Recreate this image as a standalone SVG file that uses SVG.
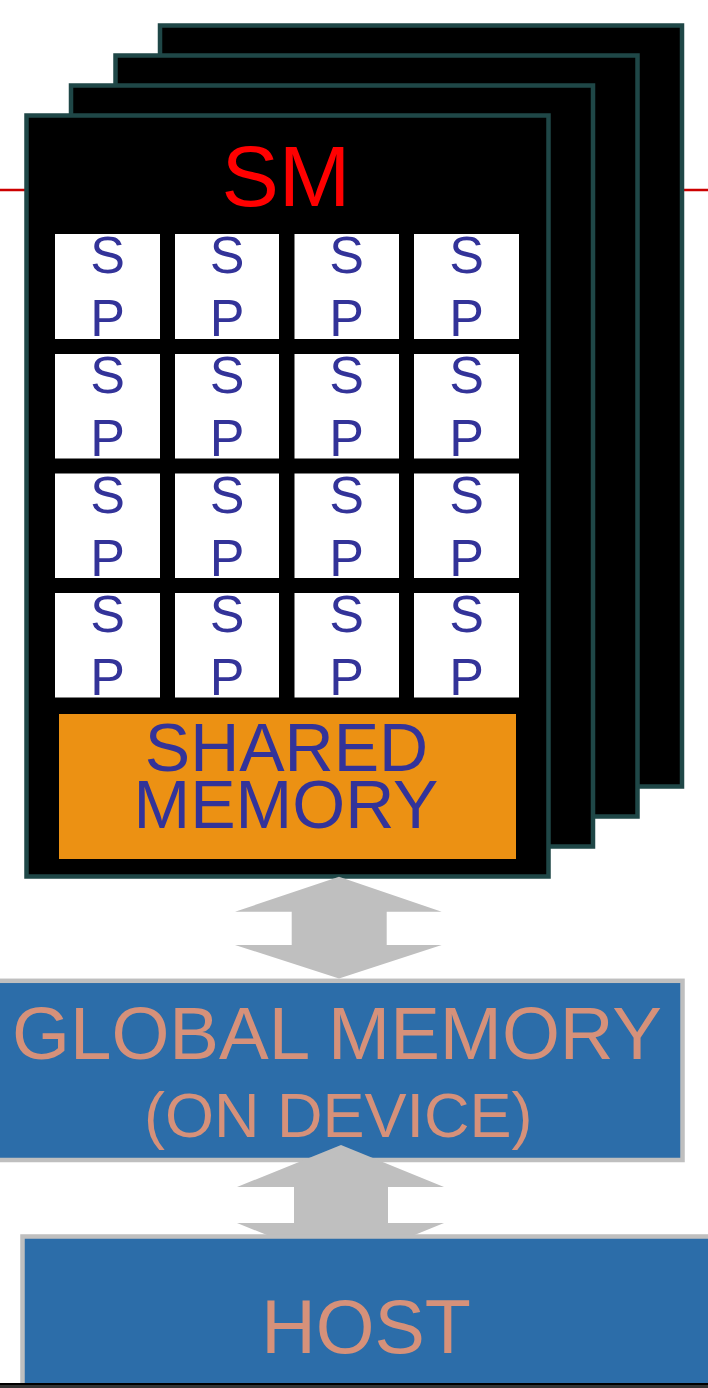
<svg xmlns="http://www.w3.org/2000/svg" width="708" height="1388" viewBox="0 0 708 1388">
  <style>
    .card { fill: #000000; stroke: #1f4747; stroke-width: 4.5; }
    .sp { fill: #ffffff; }
    .sptxt { font-family: "Liberation Sans", Arial, sans-serif; font-size: 52px; fill: #333399; text-anchor: middle; }
    .big { font-family: "Liberation Sans", Arial, sans-serif; text-anchor: middle; }
    .mem { fill: #2c6da9; stroke: #bfbfbf; stroke-width: 4.5; }
    .memtxt { fill: #d6917a; }
    .arrow { fill: #bfbfbf; }
  </style>

  <rect x="0" y="0" width="708" height="1388" fill="#ffffff"/>
  <line x1="0" y1="190" x2="708" y2="190" stroke="#cc0000" stroke-width="2.5"/>

  <g id="sm-stack">
    <rect class="card" x="160" y="25.5" width="522" height="761"/>
    <rect class="card" x="115.5" y="55.5" width="522" height="761"/>
    <rect class="card" x="71" y="85.5" width="522" height="761"/>
    <rect class="card" x="26.5" y="115.5" width="522" height="761"/>
    <text class="big" x="286" y="206" font-size="86" fill="#ff0000">SM</text>
  </g>

  <g id="sp-grid">
    <rect class="sp" x="55" y="234" width="105" height="105"/>
    <rect class="sp" x="175" y="234" width="104" height="105"/>
    <rect class="sp" x="294.5" y="234" width="104.5" height="105"/>
    <rect class="sp" x="414" y="234" width="105" height="105"/>
    <rect class="sp" x="55" y="354" width="105" height="104.5"/>
    <rect class="sp" x="175" y="354" width="104" height="104.5"/>
    <rect class="sp" x="294.5" y="354" width="104.5" height="104.5"/>
    <rect class="sp" x="414" y="354" width="105" height="104.5"/>
    <rect class="sp" x="55" y="473.5" width="105" height="104.5"/>
    <rect class="sp" x="175" y="473.5" width="104" height="104.5"/>
    <rect class="sp" x="294.5" y="473.5" width="104.5" height="104.5"/>
    <rect class="sp" x="414" y="473.5" width="105" height="104.5"/>
    <rect class="sp" x="55" y="593" width="105" height="104.5"/>
    <rect class="sp" x="175" y="593" width="104" height="104.5"/>
    <rect class="sp" x="294.5" y="593" width="104.5" height="104.5"/>
    <rect class="sp" x="414" y="593" width="105" height="104.5"/>

    <text class="sptxt" x="107.5" y="273">S</text><text class="sptxt" x="107.5" y="336">P</text>
    <text class="sptxt" x="227" y="273">S</text><text class="sptxt" x="227" y="336">P</text>
    <text class="sptxt" x="346.7" y="273">S</text><text class="sptxt" x="346.7" y="336">P</text>
    <text class="sptxt" x="466.5" y="273">S</text><text class="sptxt" x="466.5" y="336">P</text>

    <text class="sptxt" x="107.5" y="393">S</text><text class="sptxt" x="107.5" y="456">P</text>
    <text class="sptxt" x="227" y="393">S</text><text class="sptxt" x="227" y="456">P</text>
    <text class="sptxt" x="346.7" y="393">S</text><text class="sptxt" x="346.7" y="456">P</text>
    <text class="sptxt" x="466.5" y="393">S</text><text class="sptxt" x="466.5" y="456">P</text>

    <text class="sptxt" x="107.5" y="512.5">S</text><text class="sptxt" x="107.5" y="575.5">P</text>
    <text class="sptxt" x="227" y="512.5">S</text><text class="sptxt" x="227" y="575.5">P</text>
    <text class="sptxt" x="346.7" y="512.5">S</text><text class="sptxt" x="346.7" y="575.5">P</text>
    <text class="sptxt" x="466.5" y="512.5">S</text><text class="sptxt" x="466.5" y="575.5">P</text>

    <text class="sptxt" x="107.5" y="632">S</text><text class="sptxt" x="107.5" y="695">P</text>
    <text class="sptxt" x="227" y="632">S</text><text class="sptxt" x="227" y="695">P</text>
    <text class="sptxt" x="346.7" y="632">S</text><text class="sptxt" x="346.7" y="695">P</text>
    <text class="sptxt" x="466.5" y="632">S</text><text class="sptxt" x="466.5" y="695">P</text>
  </g>

  <g id="shared-memory">
    <rect x="59" y="714" width="457" height="145" fill="#ec9113"/>
    <text class="big" x="286.5" y="771" font-size="68" fill="#333399">SHARED</text>
    <text class="big" x="286" y="828" font-size="68" fill="#333399">MEMORY</text>
  </g>

  <g id="global-memory">
    <rect class="mem" x="-6" y="980.8" width="688.5" height="179.2"/>
    <text class="big memtxt" x="337" y="1059.3" font-size="74.5">GLOBAL MEMORY</text>
    <text class="big memtxt" x="338.3" y="1137" font-size="63">(ON DEVICE)</text>
  </g>

  <g id="connectors">
    <polygon class="arrow" points="339,876.7 441.7,911.7 386.7,911.7 386.7,945 441.7,945 339,978.5 235,945 291.7,945 291.7,911.7 235,911.7"/>
    <polygon class="arrow" points="341,1145 444,1187 388,1187 388,1223 444,1223 341,1265 237,1223 294,1223 294,1187 237,1187"/>
  </g>

  <g id="host">
    <rect class="mem" x="22.5" y="1236.5" width="720" height="200"/>
    <text class="big memtxt" x="366" y="1352.7" font-size="75.5">HOST</text>
  </g>

  <rect x="0" y="1383" width="708" height="2" fill="#000000"/>
  <rect x="0" y="1385" width="708" height="3" fill="#333333"/>
</svg>
